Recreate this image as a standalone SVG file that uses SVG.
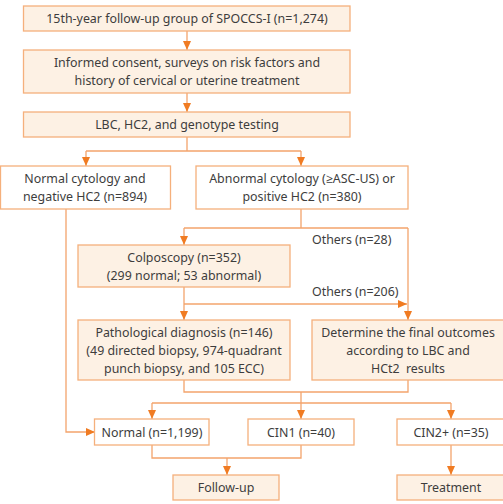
<svg xmlns="http://www.w3.org/2000/svg" width="503" height="504" viewBox="0 0 503 504">
<defs>
<marker id="ah" markerWidth="9" markerHeight="8" refX="9" refY="4" orient="auto" markerUnits="userSpaceOnUse">
<path d="M0,0 L9,4 L0,8 Z" fill="#f07b22"/>
</marker>
<style>
.bx{fill:#fdf1e4;stroke:#f5b07c;stroke-width:1.3}
.bw{fill:#ffffff;stroke:#f5b07c;stroke-width:1.3}
.ln{fill:none;stroke:#f3a46c;stroke-width:1.3}
.ar{fill:none;stroke:#f3a46c;stroke-width:1.3;marker-end:url(#ah)}
text{font-family:"Noto Sans","Open Sans","DejaVu Sans",sans-serif;font-size:12.4px;fill:#3d3d3d;text-anchor:middle}
.lb{text-anchor:start}
</style>
</defs>
<rect width="503" height="504" fill="#ffffff"/>
<g id="connectors">
<path class="ar" d="M187,31 V50"/>
<path class="ar" d="M187,93 V112"/>
<path class="ln" d="M187,137 V151 M86,151 H301"/>
<path class="ar" d="M86,151 V166"/>
<path class="ar" d="M301,151 V166"/>
<path class="ln" d="M301,209 V228 M184,228 H408"/>
<path class="ar" d="M184,228 V245"/>
<path class="ar" d="M408,228 V320"/>
<path class="ar" d="M184,287 V320"/>
<path class="ar" d="M184,304 H407"/>
<path class="ar" d="M66,209 V432 H95"/>
<path class="ln" d="M184,380 V392 H408 V380 M301,392 V403 M152,403 H451"/>
<path class="ar" d="M152,403 V419"/>
<path class="ar" d="M301,403 V419"/>
<path class="ar" d="M451,403 V419"/>
<path class="ln" d="M152,445 V458 H301 V445"/>
<path class="ar" d="M227,458 V475"/>
<path class="ar" d="M451,445 V475"/>
<text class="lb" x="312" y="244">Others (n=28)</text>
<text class="lb" x="312" y="296">Others (n=206)</text>
</g>
<g id="n1"><rect class="bx" x="23.5" y="6" width="326.5" height="25"/><text x="187" y="23">15th-year follow-up group of SPOCCS-I (n=1,274)</text></g>
<g id="n2"><rect class="bx" x="23.5" y="50" width="326.5" height="43"/><text x="187" y="67">Informed consent, surveys on risk factors and</text><text x="187" y="85">history of cervical or uterine treatment</text></g>
<g id="n3"><rect class="bx" x="23.5" y="112" width="326.5" height="25"/><text x="187" y="129">LBC, HC2, and genotype testing</text></g>
<g id="n4"><rect class="bw" x="0.5" y="166" width="170" height="43"/><text x="85" y="183">Normal cytology and</text><text x="85" y="201">negative HC2 (n=894)</text></g>
<g id="n5"><rect class="bw" x="196" y="166" width="212" height="43"/><text x="302" y="183">Abnormal cytology (≥ASC-US) or</text><text x="302" y="201">positive HC2 (n=380)</text></g>
<g id="n6"><rect class="bx" x="78" y="245" width="212" height="42"/><text x="184" y="262">Colposcopy (n=352)</text><text x="184" y="280">(299 normal; 53 abnormal)</text></g>
<g id="n7"><rect class="bx" x="78" y="320" width="212" height="60"/><text x="184" y="337">Pathological diagnosis (n=146)</text><text x="184" y="355">(49 directed biopsy, 974-quadrant</text><text x="184" y="373">punch biopsy, and 105 ECC)</text></g>
<g id="n8"><rect class="bx" x="312" y="320" width="193" height="60"/><text x="408" y="337">Determine the final outcomes</text><text x="408" y="355">according to LBC and</text><text x="408" y="373" style="white-space:pre">HCt2  results</text></g>
<g id="n9"><rect class="bw" x="94.5" y="419" width="114.5" height="26"/><text x="152" y="437">Normal (n=1,199)</text></g>
<g id="n10"><rect class="bw" x="248" y="419" width="106" height="26"/><text x="301" y="437">CIN1 (n=40)</text></g>
<g id="n11"><rect class="bw" x="397" y="419" width="108" height="26"/><text x="451" y="437">CIN2+ (n=35)</text></g>
<g id="n12"><rect class="bx" x="173" y="475" width="106" height="25"/><text x="226" y="492">Follow-up</text></g>
<g id="n13"><rect class="bx" x="397" y="475" width="108" height="25"/><text x="451" y="492">Treatment</text></g>
</svg>
